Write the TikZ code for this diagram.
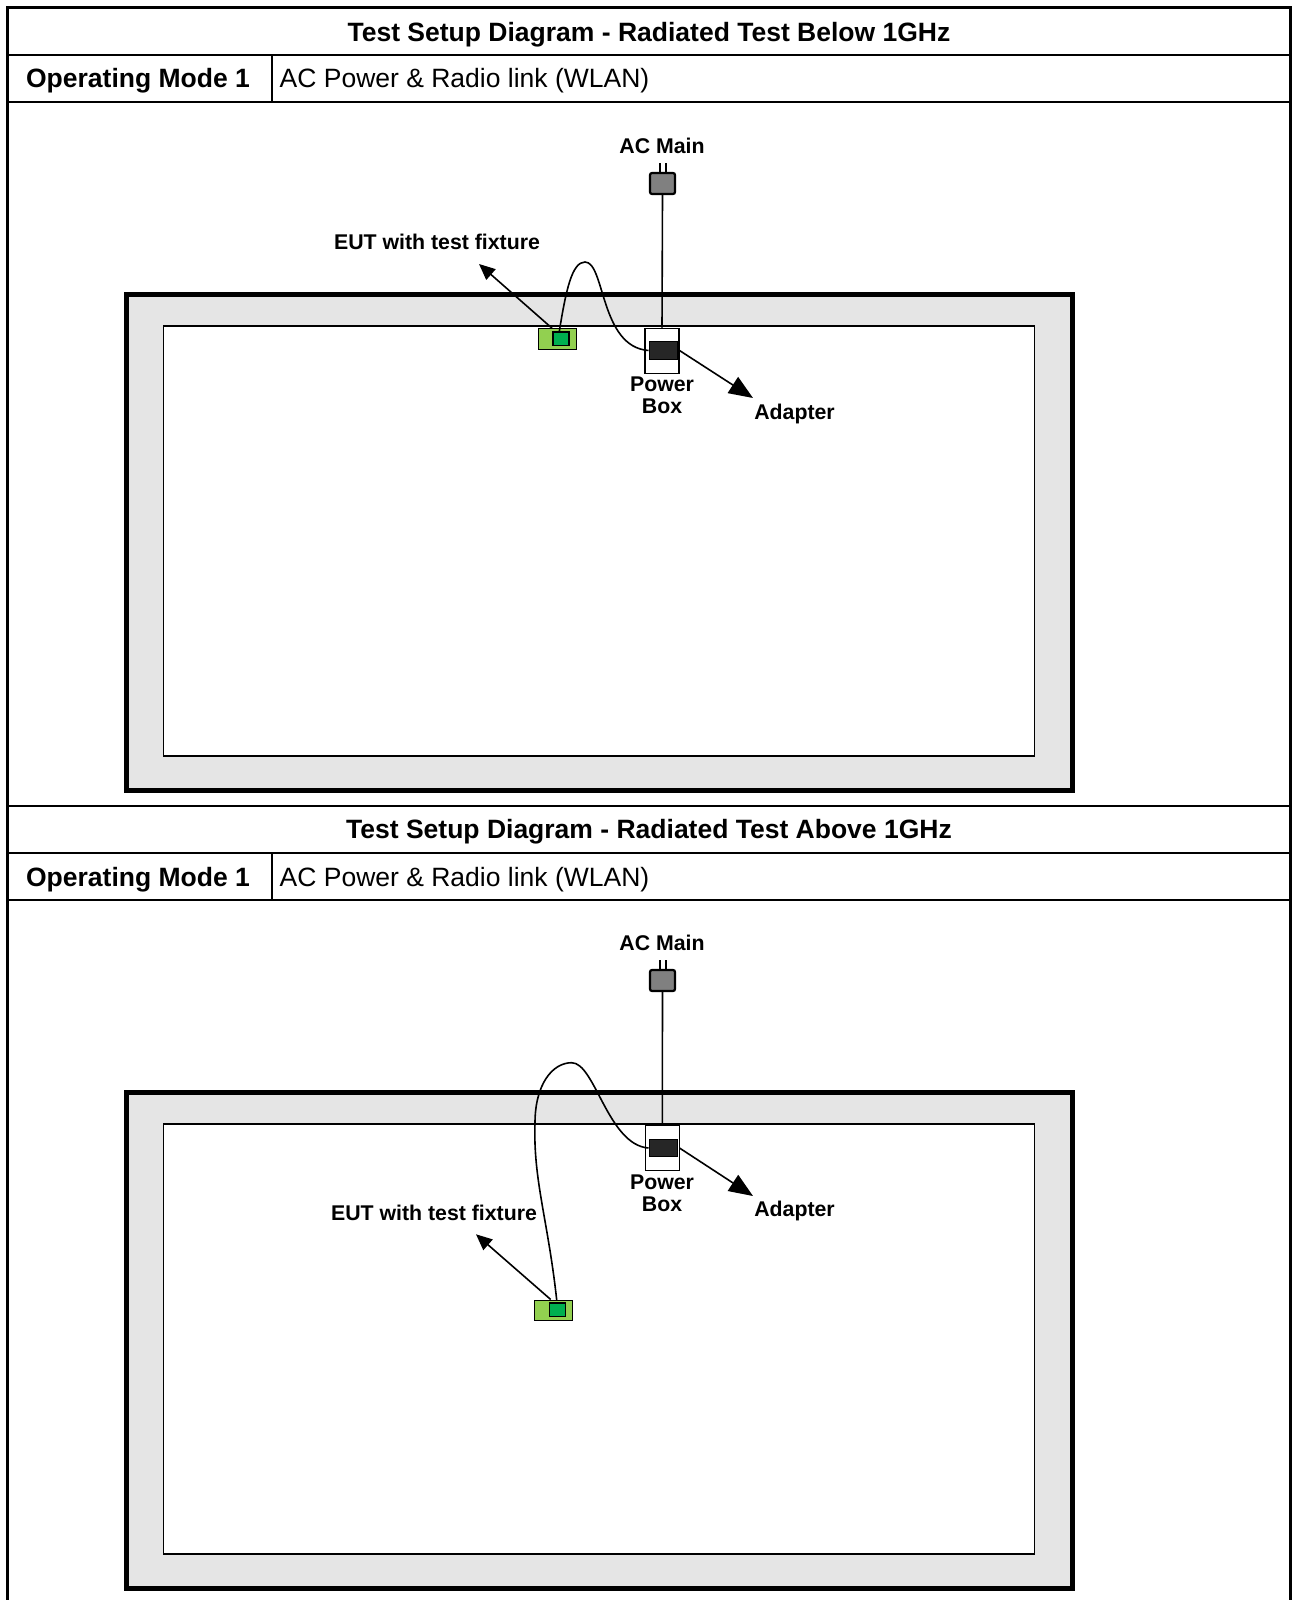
\documentclass[tikz,border=0pt]{standalone}
\usepackage{fontspec}
\setmainfont{Liberation Sans}
\usetikzlibrary{arrows.meta}
\definecolor{band}{HTML}{E5E5E5}
\definecolor{eutlight}{HTML}{92D050}
\definecolor{eutdark}{HTML}{00B050}
\definecolor{plugfill}{HTML}{808080}
\definecolor{adfill}{HTML}{262626}
\tikzset{
  hdr/.style={font=\fontsize{26.5}{30}\selectfont\bfseries, inner sep=0, anchor=base},
  txt/.style={font=\fontsize{26.5}{30}\selectfont, inner sep=0, anchor=base west},
  lbl/.style={font=\fontsize{21.3}{22.3}\selectfont\bfseries, inner sep=0, align=center},
  tableouter/.style={line width=3pt},
  tableinner/.style={line width=2pt},
  frameout/.style={line width=5pt, fill=band},
  framein/.style={line width=1.5pt, fill=white},
  eutbox/.style={draw, line width=1pt, fill=eutlight, minimum width=38pt, minimum height=21pt, inner sep=0},
  eutcore/.style={draw, line width=1.2pt, fill=eutdark, minimum width=16pt, minimum height=13.5pt, inner sep=0},
  pwrbox/.style={draw, line width=1.5pt, fill=white, minimum width=34pt, minimum height=45pt, inner sep=0},
  adbox/.style={draw, line width=1pt, fill=adfill, minimum width=28pt, minimum height=17.6pt, inner sep=0},
  plugbox/.style={draw, line width=2.2pt, rounded corners=2pt, fill=plugfill, minimum width=25pt, minimum height=21pt, inner sep=0},
  cable/.style={line width=1.6pt},
  prong/.style={line width=1.6pt},
  smallarrow/.style={line width=1.6pt, -{Triangle[length=16pt,width=14pt]}},
  bigarrow/.style={line width=1.6pt, -{Triangle[length=24pt,width=19pt]}},
}
\begin{document}
\begin{tikzpicture}[x=1pt, y=-1pt]
\useasboundingbox (0,0) rectangle (1292,1600);
\fill[white] (0,0) rectangle (1292,1600);

% ---------- table ----------
\draw[tableinner] (7.5,55) -- (1290.5,55);
\draw[tableinner] (7.5,102) -- (1290.5,102);
\draw[tableinner] (7.5,806) -- (1290.5,806);
\draw[tableinner] (7.5,853) -- (1290.5,853);
\draw[tableinner] (7.5,900) -- (1290.5,900);
\draw[tableinner] (271.5,55) -- (271.5,102);
\draw[tableinner] (271.5,853) -- (271.5,900);
\draw[tableouter] (7.5,1600) -- (7.5,7.5) -- (1290.5,7.5) -- (1290.5,1600);

\node[hdr] (title1) at (649,41.2) {Test Setup Diagram - Radiated Test Below 1GHz};
\node[hdr] (mode1) at (138,88) {Operating Mode 1};
\node[txt] (desc1) at (279.5,88) {AC Power \& Radio link (WLAN)};
\node[hdr] (title2) at (649,838.5) {Test Setup Diagram - Radiated Test Above 1GHz};
\node[hdr] (mode2) at (138,886) {Operating Mode 1};
\node[txt] (desc2) at (279.5,886) {AC Power \& Radio link (WLAN)};

% ---------- diagram 1 ----------
\draw[frameout] (126.7,294) rectangle (1072.5,790);
\draw[framein] (163.5,326) rectangle (1034.5,756);

\node[lbl] (acmain1) at (662,146) {AC Main};
\node[plugbox] (plug1) at (662.5,183.5) {};
\draw[prong] (660.2,163.3) -- (660.2,173);
\draw[prong] (665.8,163.3) -- (665.8,173);
\node[pwrbox] (pbox1) at (662,350.8) {};
\draw[cable] (plug1.south) -- (pbox1.north);
\node[adbox] (adp1) at (663,350.5) {};
\node[lbl] (pwrlbl1) at (662,395) {Power\\Box};
\node[lbl, anchor=base] (adlbl1) at (794.5,419.6) {Adapter};
\coordinate (adtip1) at (753,398);
\draw[bigarrow] (adp1.east) ++(2,0) -- (adtip1);

\node[eutbox] (eut1) at (557,338.7) {};
\node[eutcore] (eutc1) at (561,338.7) {};
\node[lbl] (eutlbl1) at (437,242) {EUT with test fixture};
\coordinate (euttip1) at (479,264);
\draw[smallarrow] (552,328.2) -- (euttip1);
\draw[cable] (eutc1.north -| 559.3,0) .. controls (566,290) and (572,262) .. (585,262)
  .. controls (605,262) and (600,347) .. (adp1.west);

% ---------- diagram 2 ----------
\draw[frameout] (126.7,1092) rectangle (1072.5,1588);
\draw[framein] (163.5,1124) rectangle (1034.5,1554);

\node[lbl] (acmain2) at (662,943) {AC Main};
\node[plugbox] (plug2) at (662.5,980.5) {};
\draw[prong] (660.2,960.3) -- (660.2,970);
\draw[prong] (665.8,960.3) -- (665.8,970);
\node[pwrbox] (pbox2) at (662.3,1147.8) {};
\draw[cable] (plug2.south) -- (pbox2.north);
\node[adbox] (adp2) at (663,1148) {};
\node[lbl] (pwrlbl2) at (662,1193) {Power\\Box};
\node[lbl, anchor=base] (adlbl2) at (794.5,1216.6) {Adapter};
\coordinate (adtip2) at (753,1196);
\draw[bigarrow] (adp2.east) ++(2,0) -- (adtip2);

\node[eutbox, minimum width=37.7pt, minimum height=20pt] (eut2) at (553.8,1310) {};
\node[eutcore] (eutc2) at (557.8,1309.8) {};
\node[lbl] (eutlbl2) at (434,1213) {EUT with test fixture};
\coordinate (euttip2) at (476,1234.3);
\draw[smallarrow] (550.7,1299.5) -- (euttip2);
\draw[cable] (556.7,1300) .. controls (548,1220) and (533,1180) .. (535,1123)
  .. controls (535,1085) and (552,1062.7) .. (571.7,1062.7)
  .. controls (595,1062.7) and (608,1145) .. (adp2.west);
\end{tikzpicture}
\end{document}
